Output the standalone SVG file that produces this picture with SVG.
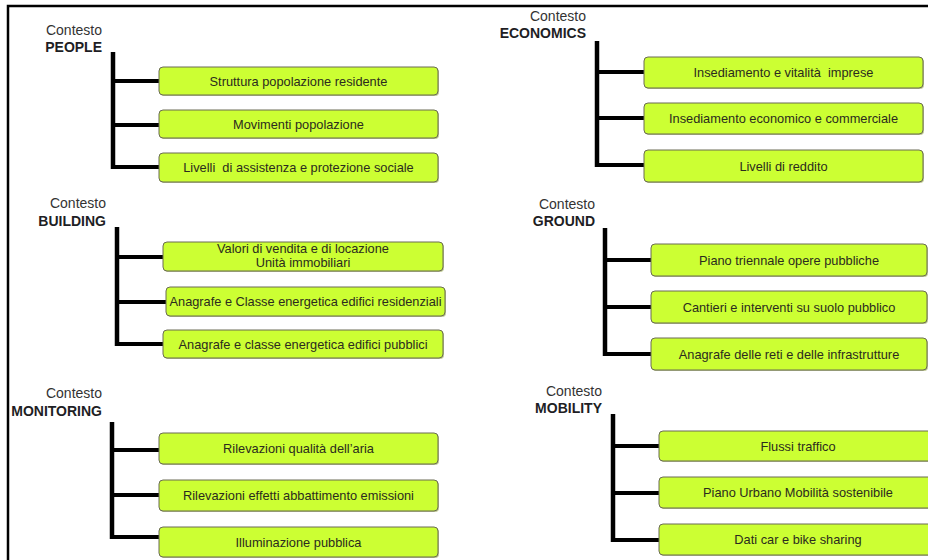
<svg xmlns="http://www.w3.org/2000/svg" width="928" height="560" viewBox="0 0 928 560">
  <defs>
    <style>
      .frame { fill: none; stroke: #000; stroke-width: 2.5; }
      .ctx { font-family: "Liberation Sans", Arial, sans-serif; font-size: 14px; fill: #333; text-anchor: end; }
      .ctx .name { font-weight: bold; fill: #1e1e24; }
      .box { fill: #ccff33; stroke: #6b6b55; stroke-width: 1; }
      .shadow { fill: #8a9a40; opacity: 0.55; }
      .lbl { font-family: "Liberation Sans", Arial, sans-serif; font-size: 12.8px; fill: #2b2b1e; text-anchor: middle; white-space: pre; }
      .bar { stroke: #000; stroke-width: 4.5; fill: none; }
      .branch { stroke: #000; stroke-width: 4; fill: none; }
    </style>
  </defs>
  <rect width="928" height="560" fill="#fff"/>

  <!-- outer frame: top and left edges -->
  <path class="frame" d="M8,560 V6 H928"/>

  <!-- tree connectors -->
  <g id="connectors">
    <!-- PEOPLE -->
    <path class="bar" d="M113,52 V169"/>
    <path class="branch" d="M113,81 H159 M113,125 H159 M113,167 H159"/>
    <!-- ECONOMICS -->
    <path class="bar" d="M597,41 V167"/>
    <path class="branch" d="M597,72 H644 M597,118 H644 M597,165 H644"/>
    <!-- BUILDING -->
    <path class="bar" d="M117,227 V346"/>
    <path class="branch" d="M117,257 H163 M117,302 H166 M117,344 H163"/>
    <!-- GROUND -->
    <path class="bar" d="M605,228 V356"/>
    <path class="branch" d="M605,260 H651 M605,307 H651 M605,354 H651"/>
    <!-- MONITORING -->
    <path class="bar" d="M112,422 V539"/>
    <path class="branch" d="M112,450 H159 M112,495 H159 M112,537 H159"/>
    <!-- MOBILITY -->
    <path class="bar" d="M613,414 V542"/>
    <path class="branch" d="M613,446 H659 M613,493 H659 M613,540 H659"/>
  </g>

  <!-- context headings -->
  <g id="ctx-people" class="ctx"><text x="102" y="35">Contesto</text><text class="name" x="102" y="52">PEOPLE</text></g>
  <g id="ctx-economics" class="ctx"><text x="586" y="21">Contesto</text><text class="name" x="586" y="38">ECONOMICS</text></g>
  <g id="ctx-building" class="ctx"><text x="106" y="208">Contesto</text><text class="name" x="106" y="226">BUILDING</text></g>
  <g id="ctx-ground" class="ctx"><text x="595" y="209">Contesto</text><text class="name" x="595" y="226">GROUND</text></g>
  <g id="ctx-monitoring" class="ctx"><text x="102" y="398">Contesto</text><text class="name" x="102" y="416">MONITORING</text></g>
  <g id="ctx-mobility" class="ctx"><text x="602" y="396">Contesto</text><text class="name" x="602" y="413">MOBILITY</text></g>

  <!-- PEOPLE items -->
  <g id="people-1"><rect class="shadow" x="160" y="68" width="279" height="28" rx="4"/><rect class="box" x="159" y="67" width="279" height="28" rx="4"/><text class="lbl" x="298.5" y="85.5">Struttura popolazione residente</text></g>
  <g id="people-2"><rect class="shadow" x="160" y="111" width="279" height="28" rx="4"/><rect class="box" x="159" y="110" width="279" height="28" rx="4"/><text class="lbl" x="298.5" y="128.5">Movimenti popolazione</text></g>
  <g id="people-3"><rect class="shadow" x="160" y="154" width="279" height="29" rx="4"/><rect class="box" x="159" y="153" width="279" height="29" rx="4"/><text class="lbl" x="298.5" y="172" xml:space="preserve">Livelli  di assistenza e protezione sociale</text></g>

  <!-- ECONOMICS items -->
  <g id="economics-1"><rect class="shadow" x="645" y="58" width="279" height="31" rx="4"/><rect class="box" x="644" y="57" width="279" height="31" rx="4"/><text class="lbl" x="783.5" y="77" xml:space="preserve">Insediamento e vitalità  imprese</text></g>
  <g id="economics-2"><rect class="shadow" x="645" y="104" width="279" height="31" rx="4"/><rect class="box" x="644" y="103" width="279" height="31" rx="4"/><text class="lbl" x="783.5" y="123">Insediamento economico e commerciale</text></g>
  <g id="economics-3"><rect class="shadow" x="645" y="151" width="279" height="32" rx="4"/><rect class="box" x="644" y="150" width="279" height="32" rx="4"/><text class="lbl" x="783.5" y="170.5">Livelli di reddito</text></g>

  <!-- BUILDING items -->
  <g id="building-1"><rect class="shadow" x="164" y="243" width="280" height="29" rx="4"/><rect class="box" x="163" y="242" width="280" height="29" rx="4"/><text class="lbl" x="303" y="253">Valori di vendita e di locazione</text><text class="lbl" x="303" y="267">Unità immobiliari</text></g>
  <g id="building-2"><rect class="shadow" x="167" y="288" width="279" height="29" rx="4"/><rect class="box" x="166" y="287" width="279" height="29" rx="4"/><text class="lbl" x="305.5" y="306" textLength="272" lengthAdjust="spacingAndGlyphs">Anagrafe e Classe energetica edifici residenziali</text></g>
  <g id="building-3"><rect class="shadow" x="164" y="331" width="280" height="28" rx="4"/><rect class="box" x="163" y="330" width="280" height="28" rx="4"/><text class="lbl" x="303" y="348.5">Anagrafe e classe energetica edifici pubblici</text></g>

  <!-- GROUND items -->
  <g id="ground-1"><rect class="shadow" x="652" y="245" width="276" height="32" rx="4"/><rect class="box" x="651" y="244" width="276" height="32" rx="4"/><text class="lbl" x="789" y="264.5">Piano triennale opere pubbliche</text></g>
  <g id="ground-2"><rect class="shadow" x="652" y="292" width="276" height="32" rx="4"/><rect class="box" x="651" y="291" width="276" height="32" rx="4"/><text class="lbl" x="789" y="311.5">Cantieri e interventi su suolo pubblico</text></g>
  <g id="ground-3"><rect class="shadow" x="652" y="339" width="276" height="32" rx="4"/><rect class="box" x="651" y="338" width="276" height="32" rx="4"/><text class="lbl" x="789" y="358.5">Anagrafe delle reti e delle infrastrutture</text></g>

  <!-- MONITORING items -->
  <g id="monitoring-1"><rect class="shadow" x="160" y="434" width="279" height="31" rx="4"/><rect class="box" x="159" y="433" width="279" height="31" rx="4"/><text class="lbl" x="298.5" y="453">Rilevazioni qualità dell’aria</text></g>
  <g id="monitoring-2"><rect class="shadow" x="160" y="481" width="279" height="31" rx="4"/><rect class="box" x="159" y="480" width="279" height="31" rx="4"/><text class="lbl" x="298.5" y="500">Rilevazioni effetti abbattimento emissioni</text></g>
  <g id="monitoring-3"><rect class="shadow" x="160" y="528" width="279" height="30" rx="4"/><rect class="box" x="159" y="527" width="279" height="30" rx="4"/><text class="lbl" x="298.5" y="546.5">Illuminazione pubblica</text></g>

  <!-- MOBILITY items -->
  <g id="mobility-1"><rect class="shadow" x="660" y="432" width="280" height="30" rx="4"/><rect class="box" x="659" y="431" width="280" height="30" rx="4"/><text class="lbl" x="798" y="450.5">Flussi traffico</text></g>
  <g id="mobility-2"><rect class="shadow" x="660" y="478" width="280" height="31" rx="4"/><rect class="box" x="659" y="477" width="280" height="31" rx="4"/><text class="lbl" x="798" y="497">Piano Urbano Mobilità sostenibile</text></g>
  <g id="mobility-3"><rect class="shadow" x="660" y="525" width="280" height="31" rx="4"/><rect class="box" x="659" y="524" width="280" height="31" rx="4"/><text class="lbl" x="798" y="544">Dati car e bike sharing</text></g>
</svg>
